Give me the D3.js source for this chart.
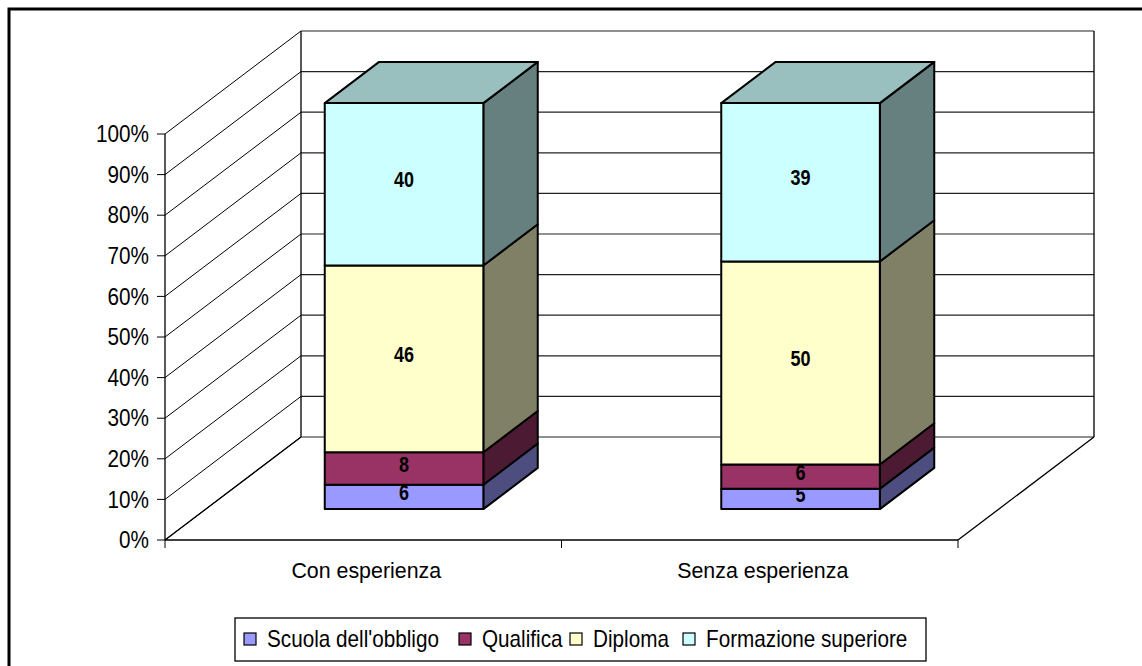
<!DOCTYPE html>
<html>
<head>
<meta charset="utf-8">
<script src="https://cdn.jsdelivr.net/npm/d3@7"></script>
<style>
  body { margin: 0; background: #fff; }
  text { font-family: "Liberation Sans", Arial, sans-serif; }
</style>
</head>
<body>
<svg id="chart" width="1142" height="666"></svg>
<script>
// data
var categories = ["Con esperienza", "Senza esperienza"];
var seriesNames = ["Scuola dell'obbligo", "Qualifica", "Diploma", "Formazione superiore"];
var conEsperienza = [6, 8, 46, 40];
var senzaEsperienza = [5, 6, 50, 39];
var yTicks = [0, 10, 20, 30, 40, 50, 60, 70, 80, 90, 100];

var frontColors = ["#9999FF", "#993366", "#FFFFCC", "#CCFFFF"];
var sideColors = ["#4D4D80", "#4D1A33", "#808066", "#668080"];
var topColors = ["#7373BF", "#73264D", "#BFBF99", "#99BFBF"];

var values = [conEsperienza, senzaEsperienza];

var svg = d3.select("#chart");

// plot geometry (front plane + depth offset)
var depthX = 136, depthY = 103;
var x = d3.scaleBand().domain(categories).range([165, 958]).paddingInner(0.6).paddingOuter(0.3);
var y = d3.scaleLinear().domain([0, 100]).range([540, 134]);

function pt(px, py, z) { return [px + z * depthX, py - z * depthY]; }
function poly(pts) { return pts.map(function(p) { return p.join(","); }).join(" "); }

// outer frame
svg.append("path")
    .attr("d", "M9,666 L9,9 L1142,9")
    .attr("fill", "none").attr("stroke", "#000").attr("stroke-width", 3);

var walls = svg.append("g");

// back wall gridlines
walls.selectAll("line.grid")
    .data(yTicks)
    .enter().append("line")
    .attr("class", "grid")
    .attr("x1", pt(165, 0, 1)[0]).attr("x2", pt(958, 0, 1)[0])
    .attr("y1", function(d) { return pt(0, y(d), 1)[1]; })
    .attr("y2", function(d) { return pt(0, y(d), 1)[1]; })
    .attr("stroke", "#222").attr("stroke-width", 1.2);

// left wall diagonals
walls.selectAll("line.diag")
    .data(yTicks)
    .enter().append("line")
    .attr("class", "diag")
    .attr("x1", 165).attr("y1", function(d) { return y(d); })
    .attr("x2", pt(165, 0, 1)[0]).attr("y2", function(d) { return pt(0, y(d), 1)[1]; })
    .attr("stroke", "#000").attr("stroke-width", 1);

// wall edges
var bl = pt(165, y(0), 1), tl = pt(165, y(100), 1), br = pt(958, y(0), 1), tr = pt(958, y(100), 1);
walls.append("path")
    .attr("d", "M" + bl + "L" + tl + "M" + br + "L" + tr + "M" + pt(958, y(0), 0) + "L" + br + "M165," + y(0) + "L" + bl)
    .attr("fill", "none").attr("stroke", "#000").attr("stroke-width", 1.3);

// y axis
var yAxis = svg.append("g");
yAxis.append("line").attr("x1", 165).attr("x2", 165).attr("y1", y(0)).attr("y2", y(100))
    .attr("stroke", "#000").attr("stroke-width", 1.3);
yAxis.selectAll("line.tick").data(yTicks).enter().append("line")
    .attr("x1", 157).attr("x2", 165)
    .attr("y1", function(d) { return y(d); }).attr("y2", function(d) { return y(d); })
    .attr("stroke", "#000");
yAxis.selectAll("text").data(yTicks).enter().append("text")
    .attr("transform", function(d) { return "translate(149," + y(d) + ") scale(0.9,1)"; })
    .attr("dy", "0.36em")
    .attr("text-anchor", "end")
    .attr("font-size", 23)
    .text(function(d) { return d + "%"; });

// x axis
var xAxis = svg.append("g");
xAxis.append("line").attr("x1", 165).attr("x2", 958).attr("y1", y(0)).attr("y2", y(0))
    .attr("stroke", "#000").attr("stroke-width", 1.3);
var xTickPos = [165].concat(categories.map(function(c) { return x(c) + x.bandwidth() / 2 + x.step() / 2; }));
xAxis.selectAll("line.tick").data(xTickPos).enter().append("line")
    .attr("x1", function(d) { return d; }).attr("x2", function(d) { return d; })
    .attr("y1", y(0)).attr("y2", y(0) + 8)
    .attr("stroke", "#000");
xAxis.selectAll("text").data(categories).enter().append("text")
    .attr("transform", function(d) { return "translate(" + (x(d) + x.bandwidth() / 2 + 3) + ",578) scale(0.93,1)"; })
    .attr("text-anchor", "middle")
    .attr("font-size", 23)
    .text(function(d) { return d; });

// bars
var z0 = 0.3, z1 = 0.7;
categories.forEach(function(cat, ci) {
  var g = svg.append("g");
  var vals = values[ci];
  var x0 = x(cat), x1 = x(cat) + x.bandwidth();
  var cum = 0;
  vals.forEach(function(v, si) {
    var lo = cum, hi = cum + v;
    cum = hi;
    var fbl = pt(x0, y(lo), z0), fbr = pt(x1, y(lo), z0), ftr = pt(x1, y(hi), z0), ftl = pt(x0, y(hi), z0);
    var bbr = pt(x1, y(lo), z1), btr = pt(x1, y(hi), z1), btl = pt(x0, y(hi), z1);
    g.append("polygon").attr("points", poly([fbr, bbr, btr, ftr]))
      .attr("fill", sideColors[si]).attr("stroke", "#000").attr("stroke-width", 2).attr("stroke-linejoin", "round");
    g.append("polygon").attr("points", poly([fbl, fbr, ftr, ftl]))
      .attr("fill", frontColors[si]).attr("stroke", "#000").attr("stroke-width", 2).attr("stroke-linejoin", "round");
    if (si === vals.length - 1) {
      g.append("polygon").attr("points", poly([ftl, ftr, btr, btl]))
        .attr("fill", topColors[si]).attr("stroke", "#000").attr("stroke-width", 2).attr("stroke-linejoin", "round");
    }
    var cx = (fbl[0] + fbr[0]) / 2, cy = (fbl[1] + ftl[1]) / 2 - 5;
    g.append("text")
      .attr("transform", "translate(" + cx + "," + cy + ") scale(0.8,1)")
      .attr("text-anchor", "middle")
      .attr("dy", "0.36em")
      .attr("font-size", 22.5)
      .attr("font-weight", "bold")
      .text(v);
  });
});

// legend
var legend = svg.append("g");
legend.append("rect").attr("x", 235).attr("y", 618).attr("width", 691).attr("height", 43)
    .attr("fill", "#fff").attr("stroke", "#000").attr("stroke-width", 1.3);
var legendX = [244, 459, 570, 683];
var items = legend.selectAll("g.item").data(seriesNames).enter().append("g")
    .attr("transform", function(d, i) { return "translate(" + legendX[i] + ",633)"; });
items.append("rect").attr("width", 12).attr("height", 12)
    .attr("fill", function(d, i) { return frontColors[i]; })
    .attr("stroke", "#000").attr("stroke-width", 1.2);
items.append("text")
    .attr("transform", "translate(23,6) scale(0.9,1)")
    .attr("dy", "0.36em")
    .attr("font-size", 23)
    .text(function(d) { return d; });
</script>
</body>
</html>
